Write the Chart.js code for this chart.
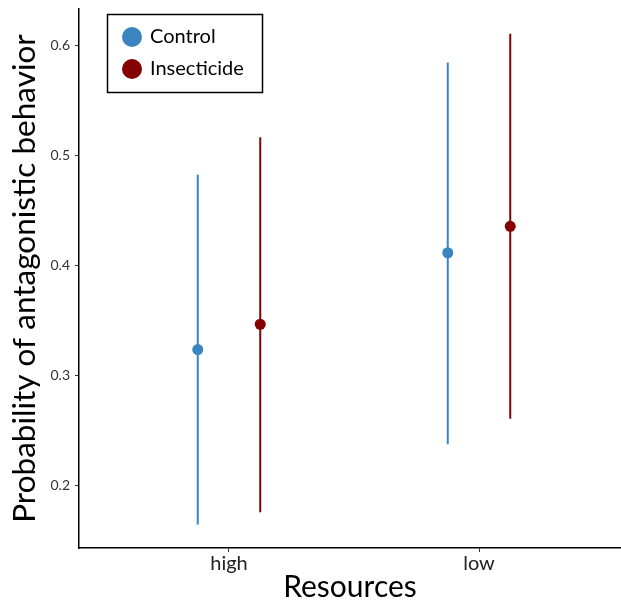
<!DOCTYPE html>
<html>
<head>
<meta charset="utf-8">
<script src="https://cdn.jsdelivr.net/npm/chart.js@4.4.1/dist/chart.umd.min.js"></script>
<style>
  html, body { margin: 0; padding: 0; background: #fff; }
  #wrap { width: 621px; height: 605px; position: relative; }
</style>
</head>
<body>
<div id="wrap"><canvas id="chart"></canvas></div>
<script>
// --- data ---
const categories = ['high', 'low'];
const groups = ['Control', 'Insecticide'];
const controlMean = [0.324, 0.412];
const controlLow = [0.165, 0.238];
const controlHigh = [0.483, 0.585];
const insectMean = [0.347, 0.436];
const insectLow = [0.176, 0.261];
const insectHigh = [0.517, 0.611];
const yTicks = [0.2, 0.3, 0.4, 0.5, 0.6];

const colors = ['#3a84c0', '#850000'];
const dodge = 0.125;

const toPoints = (mean, lo, hi, shift) =>
    mean.map((m, i) => ({ x: i + 1 + shift, y: m, lo: lo[i], hi: hi[i] }));

// vertical error bars drawn through the chart's scales
const errorBars = {
    id: 'errorBars',
    beforeDatasetsDraw(chart) {
        const { ctx, scales: { x, y } } = chart;
        ctx.save();
        chart.data.datasets.forEach((ds) => {
            ctx.strokeStyle = ds.borderColor;
            ctx.lineWidth = 2;
            ds.data.forEach(p => {
                const px = x.getPixelForValue(p.x);
                ctx.beginPath();
                ctx.moveTo(px, y.getPixelForValue(p.lo));
                ctx.lineTo(px, y.getPixelForValue(p.hi));
                ctx.stroke();
            });
        });
        ctx.restore();
    }
};

// boxed legend in the top-left of the panel
const boxLegend = {
    id: 'boxLegend',
    afterDraw(chart) {
        const { ctx } = chart;
        ctx.save();
        ctx.strokeStyle = '#000';
        ctx.lineWidth = 1.5;
        ctx.strokeRect(107.5, 14.5, 155, 78);
        ctx.font = '20px Lato, sans-serif';
        ctx.textBaseline = 'middle';
        ctx.fillStyle = '#000';
        chart.data.datasets.forEach((ds, i) => {
            const cy = 37 + i * 32;
            ctx.beginPath();
            ctx.arc(132, cy, 10, 0, Math.PI * 2);
            ctx.fillStyle = ds.backgroundColor;
            ctx.fill();
            ctx.fillStyle = '#000';
            ctx.fillText(ds.label, 150, cy);
        });
        ctx.restore();
    }
};

new Chart(document.getElementById('chart'), {
    type: 'scatter',
    data: {
        datasets: [
            {
                label: groups[0],
                data: toPoints(controlMean, controlLow, controlHigh, -dodge),
                backgroundColor: colors[0],
                borderColor: colors[0],
                pointRadius: 5.5,
                pointHoverRadius: 5.5,
                borderWidth: 0
            },
            {
                label: groups[1],
                data: toPoints(insectMean, insectLow, insectHigh, dodge),
                backgroundColor: colors[1],
                borderColor: colors[1],
                pointRadius: 5.5,
                pointHoverRadius: 5.5,
                borderWidth: 0
            }
        ]
    },
    options: {
        responsive: true,
        maintainAspectRatio: false,
        animation: false,
        layout: { autoPadding: false, padding: { top: 9, right: 0, left: 0, bottom: 0 } },
        plugins: {
            legend: { display: false },
            tooltip: { enabled: false }
        },
        scales: {
            x: {
                type: 'linear',
                min: 0.4,
                max: 2.568,
                afterBuildTicks: (scale) => {
                    scale.ticks = categories.map((c, i) => ({ value: i + 1 }));
                },
                afterFit: (scale) => {
                    scale.height = 57;
                    scale.paddingLeft = 0;
                    scale.paddingRight = 0;
                },
                ticks: {
                    callback: (v) => categories[v - 1],
                    color: '#222',
                    font: { family: 'Lato', size: 20 },
                    padding: 0,
                    maxRotation: 0
                },
                grid: { drawOnChartArea: false, drawTicks: true, tickLength: 4, color: '#333', lineWidth: 1 },
                border: { display: true, color: '#000', width: 1.5 },
                title: {
                    display: true,
                    text: 'Resources',
                    color: '#000',
                    font: { family: 'Lato', size: 30 },
                    padding: { top: 0, bottom: 0 }
                }
            },
            y: {
                min: 0.1436,
                max: 0.6336,
                afterBuildTicks: (scale) => {
                    scale.ticks = yTicks.map(v => ({ value: v }));
                },
                afterFit: (scale) => {
                    scale.width = 79;
                    scale.paddingTop = 0;
                    scale.paddingBottom = 0;
                },
                ticks: {
                    callback: (v) => v.toFixed(1),
                    color: '#333',
                    font: { family: 'Lato', size: 14 },
                    padding: 5
                },
                grid: { drawOnChartArea: false, drawTicks: true, tickLength: 4, color: '#333', lineWidth: 1 },
                border: { display: true, color: '#000', width: 1.5 },
                title: {
                    display: true,
                    text: 'Probability of antagonistic behavior',
                    color: '#000',
                    font: { family: 'Lato', size: 31.5 },
                    padding: { top: 6, bottom: 0 }
                }
            }
        }
    },
    plugins: [errorBars, boxLegend]
});
</script>
</body>
</html>
